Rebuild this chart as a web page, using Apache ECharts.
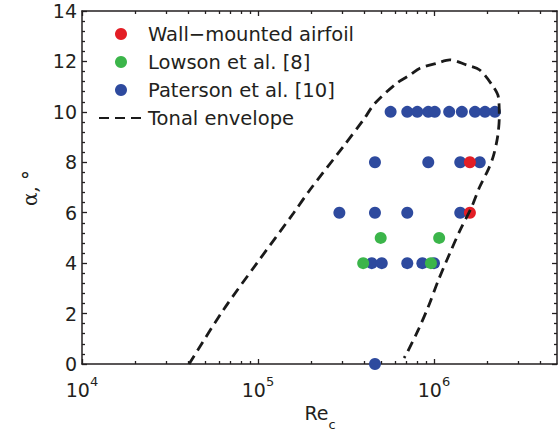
<!DOCTYPE html>
<html>
<head>
<meta charset="utf-8">
<script src="https://cdn.jsdelivr.net/npm/echarts@6.0.0/dist/echarts.min.js"></script>
<style>
  html, body { margin: 0; padding: 0; background: #fff; }
  #chart { width: 558px; height: 437px; }
</style>
</head>
<body>
<div id="chart"></div>
<script>
// Re_c on x (log), angle of attack in degrees on y
const wallRe = [1.6e6, 1.6e6]
const wallAlpha = [8, 6]

const lowsonRe = [4.98e5, 1.07e6, 3.96e5, 9.61e5]
const lowsonAlpha = [5, 5, 4, 4]

const patersonRe = [
  5.67e5, 7.05e5, 8.04e5, 9.28e5, 1.01e6, 1.22e6, 1.44e6, 1.71e6, 1.95e6, 2.22e6,
  4.62e5, 9.28e5, 1.41e6, 1.82e6,
  2.90e5, 4.62e5, 7.05e5, 1.41e6,
  4.43e5, 5.05e5, 7.05e5, 8.59e5, 1.0e6,
  4.62e5
]
const patersonAlpha = [
  10, 10, 10, 10, 10, 10, 10, 10, 10, 10,
  8, 8, 8, 8,
  6, 6, 6, 6,
  4, 4, 4, 4, 4,
  0
]

const envelopeRe = [
  4.06e4, 6.35e4, 9.84e4, 1.59e5, 1.97e5, 3.05e5, 3.97e5, 4.62e5, 6.13e5, 7.31e5,
  8.32e5, 1.04e6, 1.23e6, 1.53e6, 1.82e6, 2.17e6, 2.32e6, 2.35e6, 2.30e6, 2.17e6,
  2.03e6, 1.82e6, 1.64e6, 1.41e6, 1.23e6, 1.06e6, 9.28e5, 8.14e5, 7.0e5, 6.76e5
]
const envelopeAlpha = [
  0, 2.14, 3.99, 5.98, 6.9, 8.62, 9.68, 10.34, 11.13, 11.46,
  11.73, 11.93, 12.06, 11.86, 11.66, 11.0, 10.6, 9.81, 9.02, 8.22,
  7.7, 7.03, 6.24, 5.32, 4.39, 3.33, 2.27, 1.35, 0.42, 0.24
]

const xMajorTicks = [1e4, 1e5, 1e6]
const xMinorTicks = [
  2e4, 3e4, 4e4, 5e4, 6e4, 7e4, 8e4, 9e4,
  2e5, 3e5, 4e5, 5e5, 6e5, 7e5, 8e5, 9e5,
  2e6, 3e6, 4e6
]
const legendNames = ['Wall\u2212mounted airfoil', 'Lowson et al. [8]', 'Paterson et al. [10]', 'Tonal envelope']

const ink = '#231f20'
const font = 'DejaVu Sans'

function pairs(xs, ys) {
  return xs.map((x, i) => [x, ys[i]])
}

function logAxis(position, ticks, len, showLine, showLabel) {
  return {
    type: 'log',
    logBase: 10,
    min: 1e4,
    max: 5e6,
    position: position,
    gridIndex: 0,
    axisLine: { show: showLine, onZero: false, lineStyle: { color: ink, width: 1.5 } },
    axisTick: { show: true, inside: true, length: len, customValues: ticks, lineStyle: { color: ink, width: 1.3 } },
    axisLabel: {
      show: showLabel,
      customValues: ticks,
      margin: 11,
      formatter: v => '{b|10}{sup|' + Math.round(Math.log10(v)) + '}',
      rich: {
        b: { fontFamily: font, fontSize: 19, color: ink, lineHeight: 24, verticalAlign: 'bottom' },
        sup: { fontFamily: font, fontSize: 13, color: ink, lineHeight: 14, verticalAlign: 'top' }
      }
    },
    splitLine: { show: false },
    minorTick: { show: false },
    minorSplitLine: { show: false }
  }
}

function alphaAxis(position, showLabel) {
  return {
    type: 'value',
    min: 0,
    max: 14,
    interval: 2,
    position: position,
    axisLine: { show: true, onZero: false, lineStyle: { color: ink, width: 1.5 } },
    axisTick: { show: true, inside: true, length: 5, lineStyle: { color: ink, width: 1.3 } },
    minorTick: { show: true, splitNumber: 5, length: 3, lineStyle: { color: ink, width: 1.3 } },
    axisLabel: { show: showLabel, margin: 5, fontFamily: font, fontSize: 19, color: ink },
    splitLine: { show: false }
  }
}

// axis titles as graphic text
const axisTitles = [
  {
    type: 'text',
    x: 320,
    y: 417,
    style: {
      text: '{b|Re}{sub|c}',
      align: 'center',
      verticalAlign: 'middle',
      rich: {
        b: { fontFamily: font, fontSize: 19, fill: ink, lineHeight: 22, verticalAlign: 'top' },
        sub: { fontFamily: font, fontSize: 13, fill: ink, lineHeight: 28, verticalAlign: 'bottom' }
      }
    }
  },
  {
    type: 'text',
    x: 30,
    y: 188,
    rotation: Math.PI / 2,
    style: {
      text: '\u03b1, \u00b0',
      align: 'center',
      verticalAlign: 'middle',
      fontFamily: 'DejaVu Serif',
      fontSize: 20,
      fill: ink
    }
  }
]

const option = {
  animation: false,
  backgroundColor: '#fff',
  grid: { left: 82, right: 1, top: 11, bottom: 73 },
  legend: {
    data: legendNames,
    orient: 'vertical',
    left: 98,
    top: 24,
    itemWidth: 44,
    itemHeight: 12,
    itemGap: 8,
    padding: 0,
    textStyle: { fontFamily: font, fontSize: 19.5, color: ink, lineHeight: 20 }
  },
  graphic: axisTitles,
  xAxis: [
    logAxis('bottom', xMajorTicks, 5, true, true),
    logAxis('bottom', xMinorTicks, 3, false, false),
    logAxis('top', xMajorTicks, 5, true, false),
    logAxis('top', xMinorTicks, 3, false, false)
  ],
  yAxis: [alphaAxis('left', true), alphaAxis('right', false)],
  series: [
    {
      name: legendNames[3],
      type: 'line',
      data: pairs(envelopeRe, envelopeAlpha),
      smooth: 0.3,
      symbol: 'none',
      lineStyle: { color: '#1a1a1a', width: 2.8, type: [10, 6] },
      itemStyle: { color: '#1a1a1a', opacity: 0 }
    },
    {
      name: legendNames[2],
      type: 'scatter',
      data: pairs(patersonRe, patersonAlpha),
      symbol: 'circle',
      symbolSize: 12,
      itemStyle: { color: '#2e4a9e', opacity: 1 }
    },
    {
      name: legendNames[1],
      type: 'scatter',
      data: pairs(lowsonRe, lowsonAlpha),
      symbol: 'circle',
      symbolSize: 12,
      itemStyle: { color: '#3bb54a', opacity: 1 }
    },
    {
      name: legendNames[0],
      type: 'scatter',
      data: pairs(wallRe, wallAlpha),
      symbol: 'circle',
      symbolSize: 12,
      itemStyle: { color: '#e31e25', opacity: 1 }
    }
  ]
}

const chart = echarts.init(document.getElementById('chart'), null, { renderer: 'svg' })
chart.setOption(option)
</script>
</body>
</html>
